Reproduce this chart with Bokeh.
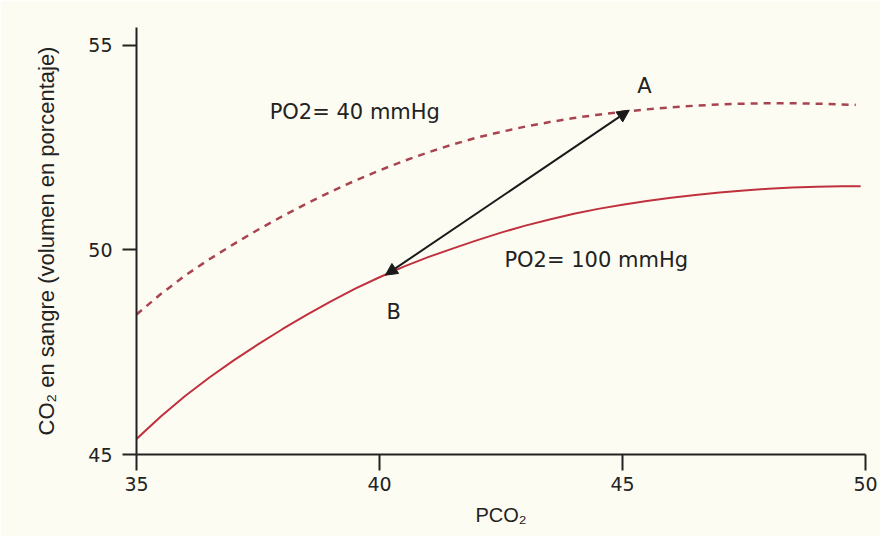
from bokeh.plotting import figure
from bokeh.models import ColumnDataSource, Range1d, FixedTicker, Arrow, NormalHead
from bokeh.core.properties import value
from bokeh.embed import file_html
from bokeh.resources import INLINE

# ---- data ----
x_ticks = [35, 40, 45, 50]
y_ticks = [45, 50, 55]

pco2_po2_40 = [35.0, 35.5, 36.0, 36.5, 37.0, 37.5, 38.0, 38.5, 39.0, 39.5, 40.0, 40.5,
               41.0, 41.5, 42.0, 42.5, 43.0, 43.5, 44.0, 44.5, 45.0, 45.5, 46.0, 46.5,
               47.0, 47.5, 48.0, 48.5, 49.0, 49.5, 49.8]
co2_po2_40 = [48.42, 48.92, 49.37, 49.77, 50.14, 50.49, 50.82, 51.13, 51.42, 51.69, 51.94, 52.17,
              52.38, 52.57, 52.74, 52.88, 53.01, 53.12, 53.22, 53.30, 53.37, 53.43, 53.48, 53.52,
              53.55, 53.57, 53.58, 53.58, 53.57, 53.55, 53.54]

pco2_po2_100 = [35.0, 35.5, 36.0, 36.5, 37.0, 37.5, 38.0, 38.5, 39.0, 39.5, 40.0, 40.5,
                41.0, 41.5, 42.0, 42.5, 43.0, 43.5, 44.0, 44.5, 45.0, 45.5, 46.0, 46.5,
                47.0, 47.5, 48.0, 48.5, 49.0, 49.5, 49.9]
co2_po2_100 = [45.38, 45.93, 46.43, 46.88, 47.30, 47.69, 48.06, 48.41, 48.74, 49.05, 49.33, 49.59,
               49.82, 50.03, 50.23, 50.42, 50.59, 50.74, 50.88, 51.00, 51.10, 51.19, 51.27, 51.34,
               51.40, 51.45, 51.49, 51.52, 51.54, 51.55, 51.55]

# arrow between point B (on PO2=100) and point A (on PO2=40)
arrow_pco2 = [40.12, 45.14]
arrow_co2 = [49.38, 53.41]

point_names = ["A", "B"]
point_pco2 = [45.45, 40.29]
point_co2 = [54.0, 48.47]

curve_names = ["PO2= 40 mmHg", "PO2= 100 mmHg"]
curve_name_pco2 = [37.74, 42.57]
curve_name_co2 = [53.36, 49.74]

x_title = "PCO\u2082"
y_title = "CO\u2082 en sangre (volumen en porcentaje)"

# ---- styling ----
BG = "#fdfcf3"
RED = "#c0313e"
DASH_RED = "#a8444f"
INK = "#222222"

p = figure(width=880, height=536,
           x_range=Range1d(35, 50), y_range=Range1d(45, 55.43),
           output_backend="svg", toolbar_location=None,
           min_border_left=136, min_border_right=15,
           min_border_top=27, min_border_bottom=82,
           background_fill_color=BG, border_fill_color=BG,
           outline_line_color=None)

p.grid.visible = False

for ax in (p.xaxis[0], p.yaxis[0]):
    ax.axis_line_color = INK
    ax.axis_line_width = 2
    ax.major_tick_line_color = INK
    ax.major_tick_line_width = 2
    ax.major_tick_in = 0
    ax.minor_tick_line_color = None
    ax.major_label_text_font = "DejaVu Sans"
    ax.major_label_text_font_size = "19px"
    ax.major_label_text_color = INK
    ax.axis_label_text_font = "Liberation Sans"
    ax.axis_label_text_font_style = "normal"
    ax.axis_label_text_color = INK

p.xaxis.ticker = FixedTicker(ticks=x_ticks)
p.yaxis.ticker = FixedTicker(ticks=y_ticks)
p.xaxis.major_tick_out = 16
p.yaxis.major_tick_out = 14
p.xaxis.major_label_standoff = 6
p.yaxis.major_label_standoff = 10
p.xaxis.axis_label = x_title
p.yaxis.axis_label = y_title
p.xaxis.axis_label_text_font_size = "20px"
p.yaxis.axis_label_text_font_size = "22px"
p.xaxis.axis_label_standoff = 10
p.yaxis.axis_label_standoff = 26

# curves
p.line(pco2_po2_40, co2_po2_40, line_color=DASH_RED, line_width=2.5, line_dash="7 6")
p.line(pco2_po2_100, co2_po2_100, line_color=RED, line_width=2)

# double-headed arrow
arrow_src = ColumnDataSource(dict(x0=[arrow_pco2[0]], y0=[arrow_co2[0]],
                                  x1=[arrow_pco2[1]], y1=[arrow_co2[1]]))
p.add_layout(Arrow(x_start="x0", y_start="y0", x_end="x1", y_end="y1", source=arrow_src,
                   line_color="#1a1a1a", line_width=2,
                   start=NormalHead(size=12, fill_color="#1a1a1a", line_color="#1a1a1a"),
                   end=NormalHead(size=12, fill_color="#1a1a1a", line_color="#1a1a1a")))

# texts
p.text(x=curve_name_pco2, y=curve_name_co2, text=curve_names,
       text_font=value("DejaVu Sans"), text_font_size="21px", text_color=INK,
       text_align="left", text_baseline="middle")
p.text(x=point_pco2, y=point_co2, text=point_names,
       text_font=value("DejaVu Sans"), text_font_size="21px", text_color=INK,
       text_align="center", text_baseline="middle")

open("out.html", "w").write(file_html(p, INLINE))
